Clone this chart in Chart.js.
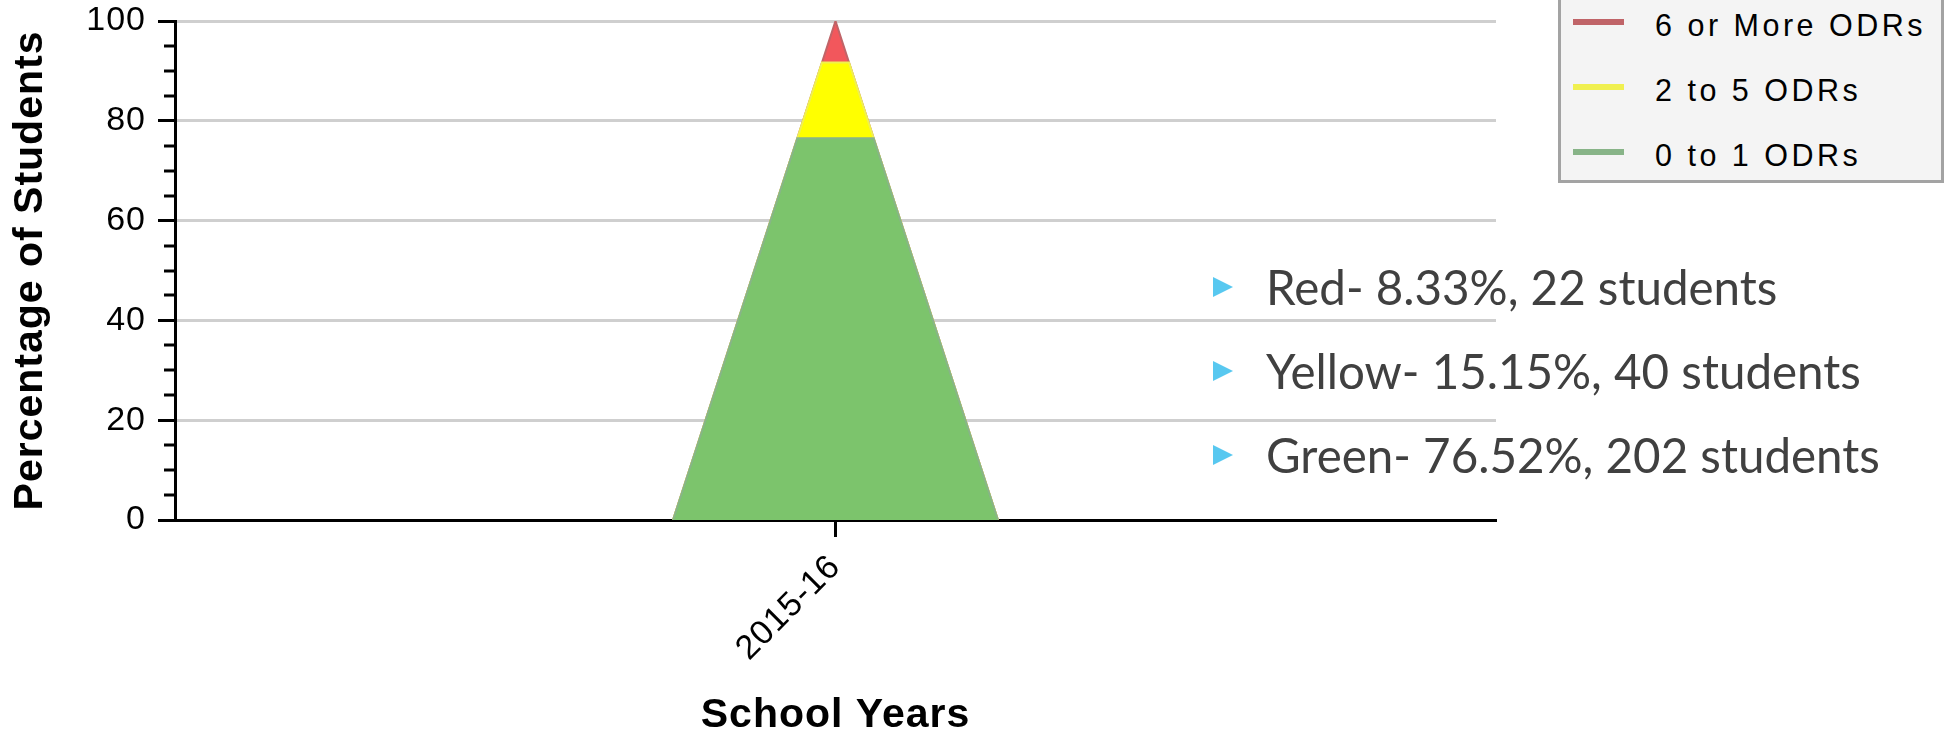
<!DOCTYPE html>
<html>
<head>
<meta charset="utf-8">
<title>ODR Distribution</title>
<script src="https://cdn.jsdelivr.net/npm/chart.js@4.4.1/dist/chart.umd.min.js"></script>
<style>
  body { margin: 0; background: #fff; }
  #wrap { position: relative; width: 1944px; height: 736px; overflow: hidden; }
  #chart { position: absolute; left: 0; top: 0; }
  #legend {
    position: absolute; left: 1558px; top: -10px; width: 386px; height: 193px;
    box-sizing: border-box; background: #f4f4f4; border: 3px solid #a3a3a3;
  }
  .leg-row { position: absolute; left: 1573px; height: 40px; display: flex; align-items: center; }
  .leg-swatch { width: 51px; height: 6px; }
  .leg-text {
    margin-left: 31px; margin-top: 6px; font: 30.5px "Liberation Sans", Arial, sans-serif;
    letter-spacing: 3.5px; color: #000;
  }
  .bullet { position: absolute; left: 1213px; height: 46px; }
  .bullet .arrow {
    position: absolute; left: 0; top: 0; width: 0; height: 0;
    border-left: 20px solid #58c8f0; border-top: 10.5px solid transparent; border-bottom: 10.5px solid transparent;
  }
  .bullet .txt {
    position: absolute; left: 53px; top: -14px; white-space: nowrap;
    font: 47.5px Lato, sans-serif; line-height: 47.5px; color: #404040;
  }
</style>
</head>
<body>
<div id="wrap">
  <canvas id="chart" width="1944" height="736"></canvas>
  <div id="legend"></div>
</div>
<script>
'use strict';

const schoolYears = ['2015-16'];
const seriesNames = ['0 to 1 ODRs', '2 to 5 ODRs', '6 or More ODRs'];
const greenPct = [76.52];
const yellowPct = [15.15];
const redPct = [8.33];
const yMax = 100;
const yStep = 20;
const minorStep = 5;

// summary lines shown beside the chart
const summaryNames = ['Red', 'Yellow', 'Green'];
const summaryPct = [8.33, 15.15, 76.52];
const summaryStudents = [22, 40, 202];

const fillColors = ['#7cc46c', '#ffff00', '#f2575c'];
const lineColors = ['#88b488', '#f0f050', '#c06468'];

Chart.defaults.font.family = '"Liberation Sans", Arial, sans-serif';

// each year is drawn as a peak that falls to zero one step either side;
// a band's line follows the peak outline and is cut flat at its cumulative top
function bandLine(tops) {
  const pts = [];
  tops.forEach((top, i) => {
    const w = 1 - top / yMax;
    pts.push({x: i - 1, y: 0});
    pts.push({x: i - w, y: top});
    pts.push({x: i + w, y: top});
    pts.push({x: i + 1, y: 0});
  });
  return pts;
}

const seriesData = [greenPct, yellowPct, redPct];
const cumulative = [];
seriesData.forEach((vals, k) => {
  cumulative.push(vals.map((v, i) => v + (k > 0 ? cumulative[k - 1][i] : 0)));
});

const xPad = 4.065;

const minorTicks = {
  id: 'minorTicks',
  afterDraw(chart) {
    const y = chart.scales.y;
    const ctx = chart.ctx;
    ctx.save();
    ctx.strokeStyle = '#000';
    ctx.lineWidth = 3;
    for (let v = minorStep; v < yMax; v += minorStep) {
      if (v % yStep === 0) continue;
      const py = Math.round(y.getPixelForValue(v));
      ctx.beginPath();
      ctx.moveTo(y.right - 11, py);
      ctx.lineTo(y.right, py);
      ctx.stroke();
    }
    ctx.restore();
  }
};

const textSpacing = {
  id: 'textSpacing',
  beforeDraw(chart) { chart.ctx.letterSpacing = '1px'; }
};

const chartObj = new Chart(document.getElementById('chart'), {
  type: 'line',
  data: {
    datasets: cumulative.map((tops, k) => ({
      label: seriesNames[k],
      data: bandLine(tops),
      fill: k === 0 ? 'origin' : '-1',
      backgroundColor: fillColors[k],
      borderColor: lineColors[k],
      borderWidth: 2,
      pointRadius: 0,
      tension: 0
    }))
  },
  options: {
    responsive: false,
    animation: false,
    layout: { padding: { left: 0, right: 448, top: 21, bottom: 0 } },
    plugins: {
      legend: { display: false },
      tooltip: { enabled: false }
    },
    scales: {
      x: {
        type: 'linear',
        min: -xPad,
        max: schoolYears.length - 1 + xPad,
        afterBuildTicks: s => { s.ticks = schoolYears.map((_, i) => ({value: i})); },
        afterFit: s => { s.height = 216; },
        ticks: {
          callback: v => schoolYears[v],
          autoSkip: false,
          minRotation: 45,
          maxRotation: 45,
          padding: 10,
          color: '#000',
          font: { size: 34 }
        },
        grid: { drawOnChartArea: false, tickLength: 17, tickColor: '#000', tickWidth: 3 },
        border: { color: '#000', width: 3 },
        title: {
          display: true,
          text: 'School Years',
          color: '#000',
          font: { size: 41, weight: 'bold', lineHeight: 1 },
          padding: { top: 0, bottom: 0 }
        }
      },
      y: {
        min: 0,
        max: yMax,
        afterFit: s => { s.width = 175; s.paddingTop = 0; s.paddingBottom = 0; },
        ticks: { stepSize: yStep, padding: 12, color: '#000', font: { size: 34 } },
        grid: { color: '#cfcfcf', lineWidth: 3, tickColor: '#000', tickLength: 17, tickWidth: 3 },
        border: { color: '#000', width: 3 },
        title: {
          display: true,
          text: 'Percentage of Students',
          color: '#000',
          font: { size: 41, weight: 'bold', lineHeight: 1 },
          padding: { top: 10, bottom: 0 }
        }
      }
    }
  },
  plugins: [textSpacing, minorTicks]
});

// legend box, top entry is the top of the stack
const wrap = document.getElementById('wrap');
chartObj.data.datasets.slice().reverse().forEach((ds, i) => {
  const row = document.createElement('div');
  row.className = 'leg-row';
  row.style.top = (2 + i * 65) + 'px';
  const sw = document.createElement('div');
  sw.className = 'leg-swatch';
  sw.style.background = ds.borderColor;
  const tx = document.createElement('div');
  tx.className = 'leg-text';
  tx.textContent = ds.label;
  row.appendChild(sw);
  row.appendChild(tx);
  wrap.appendChild(row);
});

summaryNames.forEach((name, i) => {
  const b = document.createElement('div');
  b.className = 'bullet';
  b.style.top = (277 + i * 84) + 'px';
  const arrow = document.createElement('div');
  arrow.className = 'arrow';
  const tx = document.createElement('div');
  tx.className = 'txt';
  tx.textContent = name + '- ' + summaryPct[i].toFixed(2) + '%, ' + summaryStudents[i] + ' students';
  b.appendChild(arrow);
  b.appendChild(tx);
  wrap.appendChild(b);
});
</script>
</body>
</html>
